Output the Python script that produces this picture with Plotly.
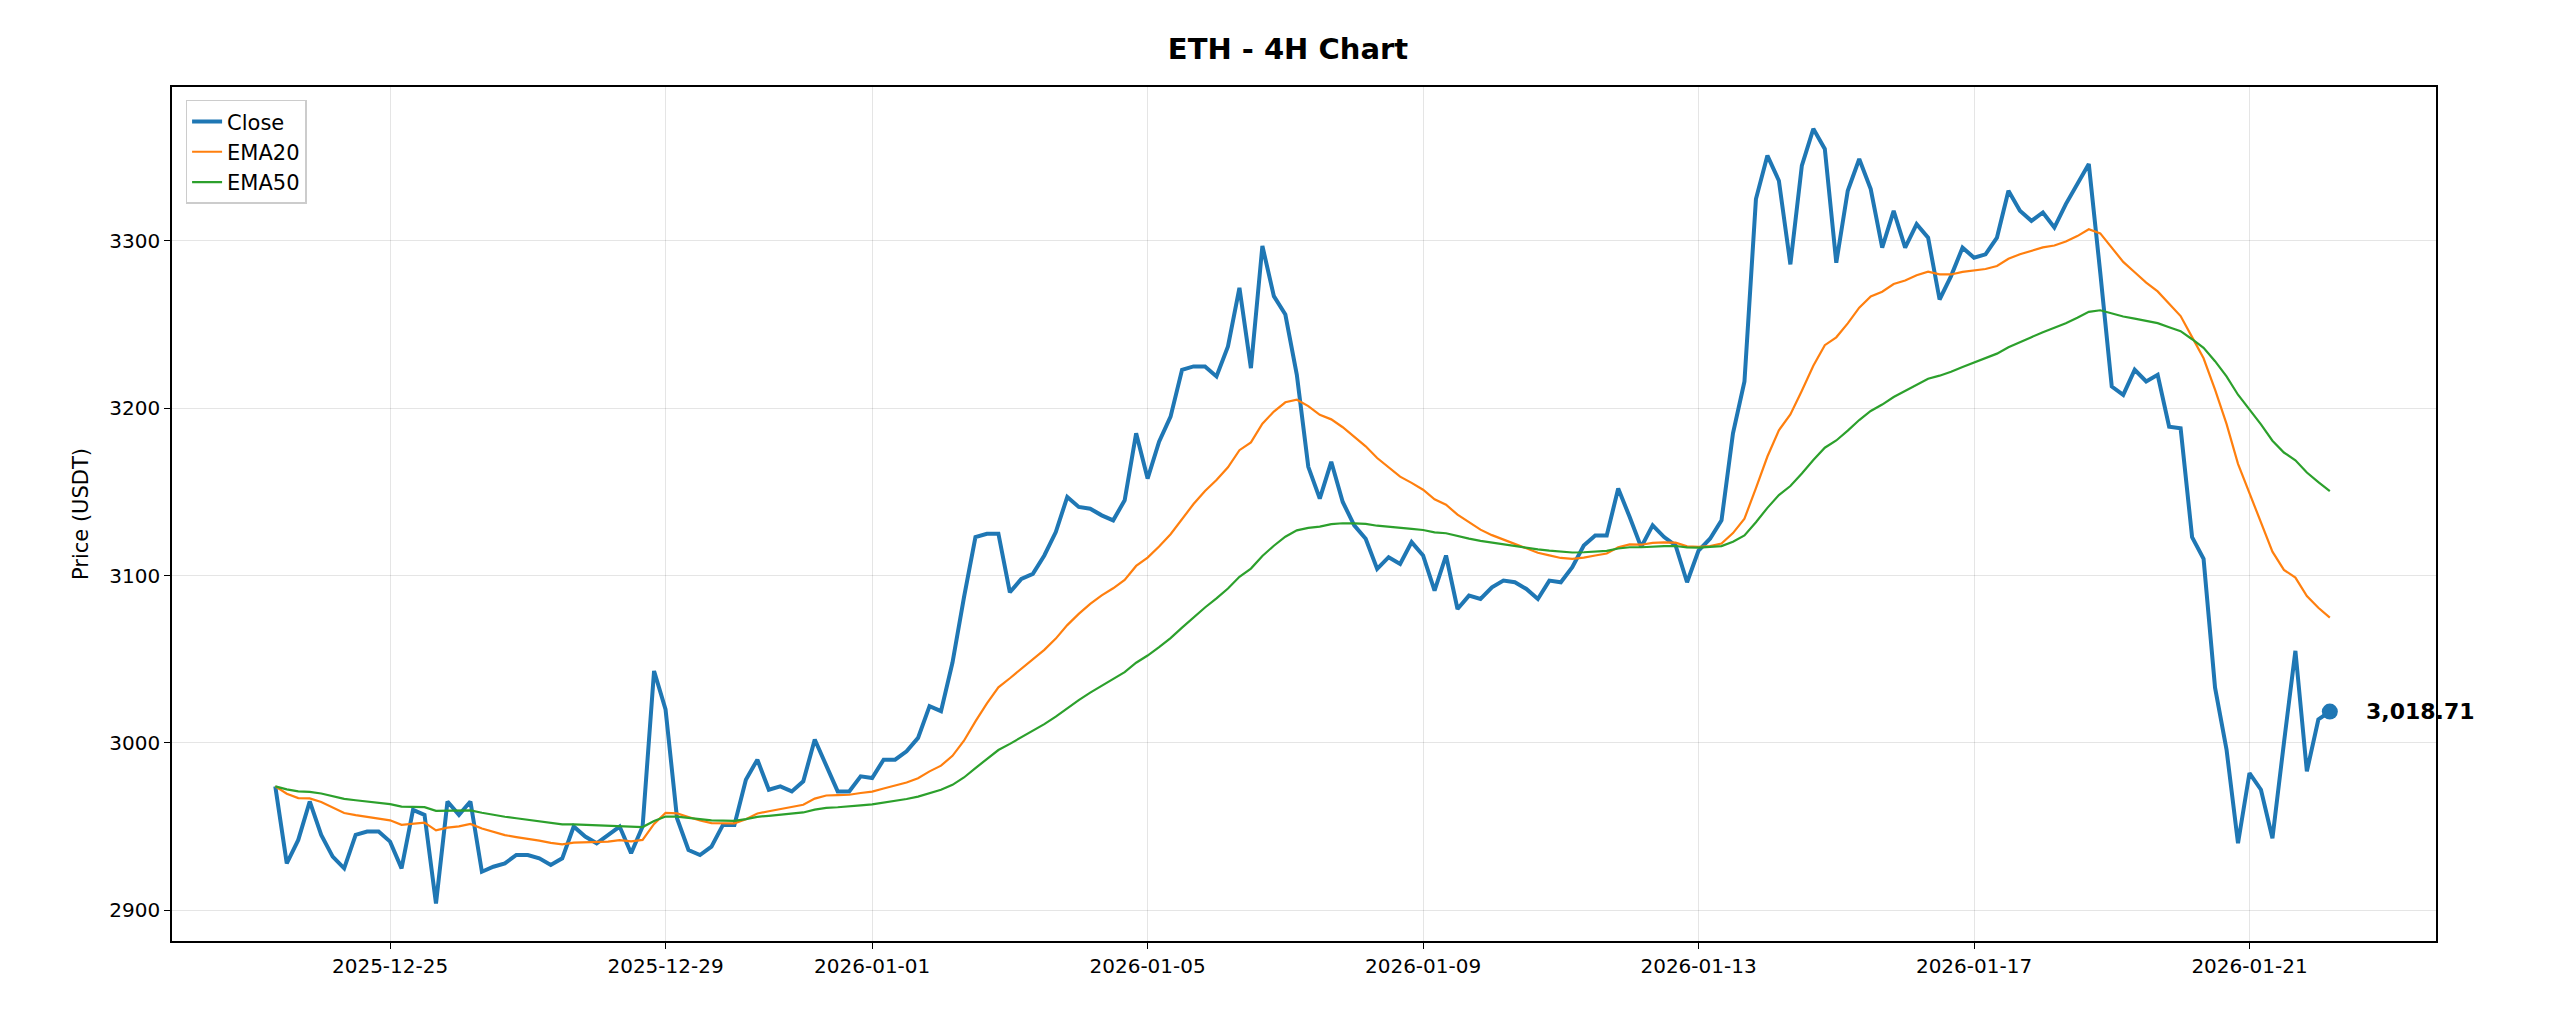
import pandas as pd
import plotly.graph_objects as go

close = [2974,2928,2942,2965,2945,2932,2925,2945,2947,2947,2941,2925,2960,2957,2904,2965,2957,2965,2923,
2926,2928,2933,2933,2931,2927,2931,2950,2944,2940,2945,2950,2934,2950,3043,3020,2955,2936,2933,2938,
2951,2951,2978,2990,2972,2974,2971,2977,3002,2986,2971,2971,2980,2979,2990,2990,2995,3003,3022,3019,
3048,3087,3123,3125,3125,3090,3098,3101,3112,3126,3147,3141,3140,3136,3133,3145,3185,3158,3180,3195,
3223,3225,3225,3219,3237,3272,3224,3297,3267,3256,3220,3165,3146,3168,3144,3130,3122,3104,3111,3107,
3120,3112,3091,3112,3080,3088,3086,3093,3097,3096,3092,3086,3097,3096,3105,3118,3124,3124,3152,3135,
3117,3130,3123,3118,3096,3115,3122,3133,3185,3216,3325,3351,3336,3286,3345,3367,3355,3287,3330,3349,
3331,3296,3318,3296,3310,3302,3265,3279,3296,3290,3292,3302,3330,3318,3312,3317,3308,3322,3334,3346,
3281,3213,3208,3223,3216,3220,3189,3188,3123,3110,3033,2996,2940,2982,2972,2943,3000,3055,2983,3014,3018.71]
start = "2025-12-23 08:00"
tick_vals = ["2025-12-25","2025-12-29","2026-01-01","2026-01-05","2026-01-09","2026-01-13","2026-01-17","2026-01-21"]
y_ticks = [2900,3000,3100,3200,3300]

dates = pd.date_range(start, periods=len(close), freq="4h")
s = pd.Series(close, index=dates)
ema20 = s.ewm(span=20, adjust=False).mean()
ema50 = s.ewm(span=50, adjust=False).mean()

fig = go.Figure()
fig.add_trace(go.Scatter(x=dates, y=close, mode="lines", name="Close", line=dict(color="#1f77b4", width=4)))
fig.add_trace(go.Scatter(x=dates, y=ema20, mode="lines", name="EMA20", line=dict(color="#ff7f0e", width=2.2)))
fig.add_trace(go.Scatter(x=dates, y=ema50, mode="lines", name="EMA50", line=dict(color="#2ca02c", width=2.2)))
fig.add_trace(go.Scatter(x=[dates[-1]], y=[close[-1]], mode="markers", showlegend=False,
                         marker=dict(color="#1f77b4", size=16)))
fig.add_annotation(x=dates[-1], y=close[-1], text="<b>%s</b>" % f"{close[-1]:,.2f}", showarrow=False,
                   xanchor="left", xshift=34, font=dict(size=22, color="black"))

ax = dict(showline=True, linecolor="black", linewidth=1.5, mirror=True, ticks="outside",
          ticklen=6, tickcolor="black", showgrid=True, gridcolor="rgba(0,0,0,0.1)", zeroline=False,
          tickfont=dict(size=20, color="black"))
fig.update_layout(
    width=2560, height=1024, plot_bgcolor="white", paper_bgcolor="white",
    font=dict(family="DejaVu Sans", color="black"),
    title=dict(text="<b>ETH - 4H Chart</b>", x=0.5, xanchor="center", y=0.97, font=dict(size=29)),
    margin=dict(l=164, r=132, t=79, b=91),
    legend=dict(x=0.006, y=0.985, xanchor="left", yanchor="top", bordercolor="#cccccc", borderwidth=1.5,
                bgcolor="rgba(255,255,255,0.8)", font=dict(size=21)),
    xaxis=dict(**ax, range=["2025-12-21 20:00", "2026-01-23 17:00"], tickvals=tick_vals, ticktext=tick_vals),
    yaxis=dict(**ax, range=[2881.6, 3392], tickvals=y_ticks,
               title=dict(text="Price (USDT)", font=dict(size=21))),
)
fig.write_html("out.html")
